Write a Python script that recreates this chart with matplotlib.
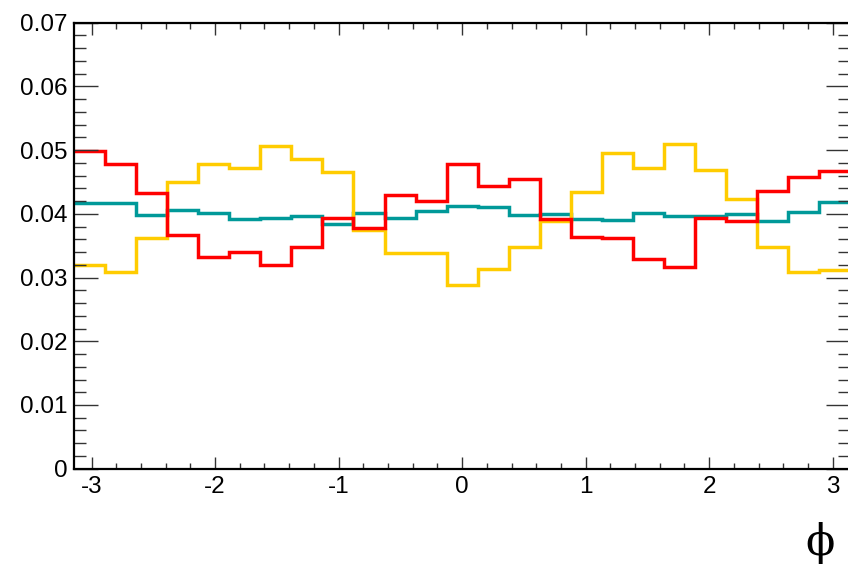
import numpy as np
import matplotlib
matplotlib.use("Agg")
import matplotlib.pyplot as plt
from matplotlib.ticker import MultipleLocator

plt.rcParams['font.family'] = ['Liberation Sans', 'DejaVu Sans']
plt.rcParams['axes.unicode_minus'] = False

# 25 equal bins over [-pi, pi]
nbins = 25
edges = np.linspace(-np.pi, np.pi, nbins + 1)

red = [0.0498, 0.0478, 0.0432, 0.0367, 0.0333, 0.0340, 0.0320, 0.0348, 0.0393,
       0.0378, 0.0429, 0.0420, 0.0479, 0.0443, 0.0454, 0.0392, 0.0363, 0.0362,
       0.0329, 0.0316, 0.0394, 0.0389, 0.0436, 0.0458, 0.0468]
yellow = [0.0319, 0.0309, 0.0362, 0.0450, 0.0478, 0.0472, 0.0507, 0.0486, 0.0466,
          0.0375, 0.0338, 0.0338, 0.0288, 0.0313, 0.0348, 0.0388, 0.0435, 0.0495,
          0.0472, 0.0509, 0.0469, 0.0423, 0.0348, 0.0309, 0.0312]
teal = [0.0417, 0.0417, 0.0398, 0.0406, 0.0401, 0.0392, 0.0393, 0.0396, 0.0384,
        0.0401, 0.0394, 0.0405, 0.0413, 0.0411, 0.0398, 0.0400, 0.0392, 0.0390,
        0.0402, 0.0397, 0.0396, 0.0400, 0.0388, 0.0403, 0.0418]

fig = plt.figure(figsize=(8.48, 5.68), dpi=100)
ax = fig.add_axes([74.1 / 848, 99.3 / 568, 776 / 848, 446 / 568])

lw = 2.5
ax.stairs(teal, edges, color='#009999', lw=lw, baseline=None)
ax.stairs(yellow, edges, color='#ffcc00', lw=lw, baseline=None)
ax.stairs(red, edges, color='#ff0000', lw=lw, baseline=None)

ax.set_xlim(-np.pi, np.pi)
ax.set_ylim(0, 0.07)

ax.xaxis.set_major_locator(MultipleLocator(1))
ax.xaxis.set_minor_locator(MultipleLocator(0.2))
ax.yaxis.set_minor_locator(MultipleLocator(0.002))
ax.set_yticks(np.arange(0, 0.0701, 0.01))
ax.set_yticklabels(['0', '0.01', '0.02', '0.03', '0.04', '0.05', '0.06', '0.07'])

ax.tick_params(axis='both', which='both', direction='in', top=True, right=True,
               width=1.0, color='#333333', labelsize=17.5)
ax.tick_params(axis='x', which='major', length=8.6, pad=5)
ax.tick_params(axis='x', which='minor', length=4.3)
ax.tick_params(axis='y', which='major', length=17.3, pad=5)
ax.tick_params(axis='y', which='minor', length=8.6)

for s in ax.spines.values():
    s.set_linewidth(1.6)

# axis title at the right end, below the tick labels
fig.text(820 / 848, 4 / 568, 'ϕ', ha='center', va='bottom', fontsize=31,
         family=['DejaVu Serif', 'DejaVu Sans'])

fig.savefig('out.png', dpi=100)
